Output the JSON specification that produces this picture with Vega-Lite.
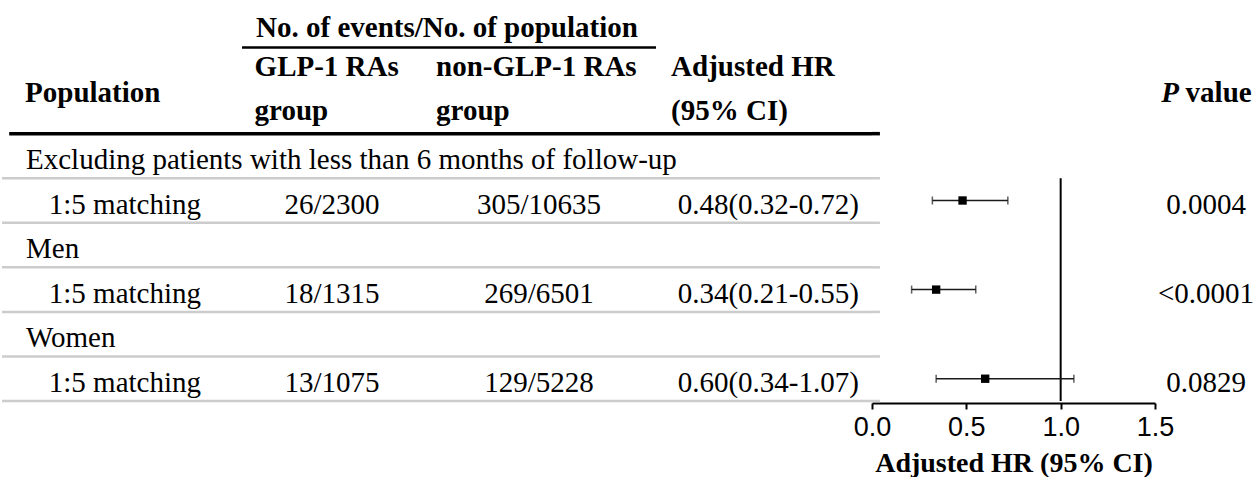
{
  "$schema": "https://vega.github.io/schema/vega-lite/v6.json",
  "padding": 0,
  "spacing": 0,
  "bounds": "flush",
  "background": "white",
  "config": {
    "view": {"stroke": null},
    "text": {"font": "Liberation Serif", "fontSize": 29, "color": "black"},
    "concat": {"spacing": 0}
  },
  "datasets": {
    "rows": [
      {"row": "r1", "kind": "group", "label": "Excluding patients with less than 6 months of follow-up"},
      {"row": "r2", "kind": "sub", "label": "1:5 matching", "glp": "26/2300", "non": "305/10635", "hr": "0.48(0.32-0.72)", "p": "0.0004", "est": 0.48, "lo": 0.32, "hi": 0.72},
      {"row": "r3", "kind": "group", "label": "Men"},
      {"row": "r4", "kind": "sub", "label": "1:5 matching", "glp": "18/1315", "non": "269/6501", "hr": "0.34(0.21-0.55)", "p": "<0.0001", "est": 0.34, "lo": 0.21, "hi": 0.55},
      {"row": "r5", "kind": "group", "label": "Women"},
      {"row": "r6", "kind": "sub", "label": "1:5 matching", "glp": "13/1075", "non": "129/5228", "hr": "0.60(0.34-1.07)", "p": "0.0829", "est": 0.60, "lo": 0.34, "hi": 1.07}
    ],
    "headers": [
      {"col": "pop", "row": "h2", "text": "Population"},
      {"col": "events", "row": "h1", "text": "No. of events/No. of population"},
      {"col": "glp", "row": "h2", "text": "GLP-1 RAs"},
      {"col": "glp", "row": "h3", "text": "group"},
      {"col": "non", "row": "h2", "text": "non-GLP-1 RAs"},
      {"col": "non", "row": "h3", "text": "group"},
      {"col": "hr", "row": "h2", "text": "Adjusted HR"},
      {"col": "hr", "row": "h3", "text": "(95% CI)"},
      {"col": "p", "row": "h2", "text": "P"},
      {"col": "p2", "row": "h2", "text": "value"}
    ],
    "one": [{}]
  },
  "hconcat": [
    {
      "width": 240, "height": 401,
      "layer": [
        {"data": {"name": "one"},
         "mark": {"type": "rule", "strokeWidth": 3.5, "color": "black"},
         "encoding": {
           "y": {"datum": "h3", "type": "nominal", "bandPosition": 1, "scale": {"type": "band", "domain": ["h1","h2","h3","r1","r2","r3","r4","r5","r6"], "paddingInner": 0, "paddingOuter": 0}, "axis": null},
           "x": {"datum": 0.03, "type": "quantitative", "scale": {"domain": [0, 1], "nice": false, "zero": false}, "axis": null},
           "x2": {"datum": 1}}},
        {"data": {"name": "rows"},
         "mark": {"type": "rule", "strokeWidth": 2.5, "color": "#cccccc"},
         "encoding": {"y": {"field": "row", "type": "nominal", "bandPosition": 1, "axis": null}}},
        {"data": {"name": "headers"}, "transform": [{"filter": "datum.col === 'pop'"}],
         "mark": {"type": "text", "align": "left", "fontWeight": "bold", "dy": 4},
         "encoding": {"y": {"field": "row", "type": "nominal", "bandPosition": 1, "axis": null},
           "x": {"datum": 0.096, "type": "quantitative"}, "text": {"field": "text"}}},
        {"data": {"name": "rows"}, "transform": [{"filter": "datum.kind === 'group'"}],
         "mark": {"type": "text", "align": "left", "dy": 4},
         "encoding": {"y": {"field": "row", "type": "nominal", "bandPosition": 0.5, "axis": null},
           "x": {"datum": 0.1, "type": "quantitative"}, "text": {"field": "label"}}},
        {"data": {"name": "rows"}, "transform": [{"filter": "datum.kind === 'sub'"}],
         "mark": {"type": "text", "align": "left", "dy": 4},
         "encoding": {"y": {"field": "row", "type": "nominal", "bandPosition": 0.5, "axis": null},
           "x": {"datum": 0.195, "type": "quantitative"}, "text": {"field": "label"}}}
      ]
    },
    {
      "width": 180, "height": 401,
      "layer": [
        {"data": {"name": "one"},
         "mark": {"type": "rule", "strokeWidth": 3.5, "color": "black"},
         "encoding": {
           "y": {"datum": "h3", "type": "nominal", "bandPosition": 1, "scale": {"type": "band", "domain": ["h1","h2","h3","r1","r2","r3","r4","r5","r6"], "paddingInner": 0, "paddingOuter": 0}, "axis": null}}},
        {"data": {"name": "one"},
         "mark": {"type": "rule", "strokeWidth": 2.5, "color": "black", "yOffset": 3},
         "encoding": {"y": {"datum": "h1", "type": "nominal", "bandPosition": 1, "axis": null}}},
        {"data": {"name": "rows"},
         "mark": {"type": "rule", "strokeWidth": 2.5, "color": "#cccccc"},
         "encoding": {"y": {"field": "row", "type": "nominal", "bandPosition": 1, "axis": null}}},
        {"data": {"name": "headers"}, "transform": [{"filter": "datum.col === 'events'"}],
         "mark": {"type": "text", "align": "left", "fontWeight": "bold", "dy": 6},
         "encoding": {"y": {"field": "row", "type": "nominal", "bandPosition": 0.5, "axis": null},
           "x": {"datum": 0.078, "type": "quantitative", "scale": {"domain": [0, 1], "nice": false, "zero": false}, "axis": null}, "text": {"field": "text"}}},
        {"data": {"name": "headers"}, "transform": [{"filter": "datum.col === 'glp'"}],
         "mark": {"type": "text", "align": "left", "fontWeight": "bold"},
         "encoding": {"y": {"field": "row", "type": "nominal", "bandPosition": 0.5, "axis": null},
           "x": {"datum": 0.07, "type": "quantitative"}, "text": {"field": "text"}}},
        {"data": {"name": "rows"}, "transform": [{"filter": "datum.kind === 'sub'"}],
         "mark": {"type": "text", "align": "center", "dy": 4},
         "encoding": {"y": {"field": "row", "type": "nominal", "bandPosition": 0.5, "axis": null},
           "x": {"datum": 0.5, "type": "quantitative"}, "text": {"field": "glp"}}}
      ]
    },
    {
      "width": 234, "height": 401,
      "layer": [
        {"data": {"name": "one"},
         "mark": {"type": "rule", "strokeWidth": 3.5, "color": "black"},
         "encoding": {
           "y": {"datum": "h3", "type": "nominal", "bandPosition": 1, "scale": {"type": "band", "domain": ["h1","h2","h3","r1","r2","r3","r4","r5","r6"], "paddingInner": 0, "paddingOuter": 0}, "axis": null}}},
        {"data": {"name": "one"},
         "mark": {"type": "rule", "strokeWidth": 2.5, "color": "black", "yOffset": 3},
         "encoding": {"y": {"datum": "h1", "type": "nominal", "bandPosition": 1, "axis": null}}},
        {"data": {"name": "rows"},
         "mark": {"type": "rule", "strokeWidth": 2.5, "color": "#cccccc"},
         "encoding": {"y": {"field": "row", "type": "nominal", "bandPosition": 1, "axis": null}}},
        {"data": {"name": "headers"}, "transform": [{"filter": "datum.col === 'non'"}],
         "mark": {"type": "text", "align": "left", "fontWeight": "bold"},
         "encoding": {"y": {"field": "row", "type": "nominal", "bandPosition": 0.5, "axis": null},
           "x": {"datum": 0.06, "type": "quantitative", "scale": {"domain": [0, 1], "nice": false, "zero": false}, "axis": null}, "text": {"field": "text"}}},
        {"data": {"name": "rows"}, "transform": [{"filter": "datum.kind === 'sub'"}],
         "mark": {"type": "text", "align": "center", "dy": 4},
         "encoding": {"y": {"field": "row", "type": "nominal", "bandPosition": 0.5, "axis": null},
           "x": {"datum": 0.5, "type": "quantitative"}, "text": {"field": "non"}}}
      ]
    },
    {
      "width": 216, "height": 401,
      "layer": [
        {"data": {"name": "one"},
         "mark": {"type": "rule", "strokeWidth": 3.5, "color": "black"},
         "encoding": {
           "y": {"datum": "h3", "type": "nominal", "bandPosition": 1, "scale": {"type": "band", "domain": ["h1","h2","h3","r1","r2","r3","r4","r5","r6"], "paddingInner": 0, "paddingOuter": 0}, "axis": null}}},
        {"data": {"name": "rows"},
         "mark": {"type": "rule", "strokeWidth": 2.5, "color": "#cccccc"},
         "encoding": {"y": {"field": "row", "type": "nominal", "bandPosition": 1, "axis": null}}},
        {"data": {"name": "headers"}, "transform": [{"filter": "datum.col === 'hr'"}],
         "mark": {"type": "text", "align": "left", "fontWeight": "bold"},
         "encoding": {"y": {"field": "row", "type": "nominal", "bandPosition": 0.5, "axis": null},
           "x": {"datum": 0.07, "type": "quantitative", "scale": {"domain": [0, 1], "nice": false, "zero": false}, "axis": null}, "text": {"field": "text"}}},
        {"data": {"name": "rows"}, "transform": [{"filter": "datum.kind === 'sub'"}],
         "mark": {"type": "text", "align": "center", "dy": 4},
         "encoding": {"y": {"field": "row", "type": "nominal", "bandPosition": 0.5, "axis": null},
           "x": {"datum": 0.52, "type": "quantitative"}, "text": {"field": "hr"}}}
      ]
    },
    {
      "width": 283, "height": 401,
      "layer": [
        {"data": {"name": "one"},
         "mark": {"type": "rule", "strokeWidth": 3.5, "color": "black"},
         "encoding": {
           "y": {"datum": "h3", "type": "nominal", "bandPosition": 1, "scale": {"type": "band", "domain": ["h1","h2","h3","r1","r2","r3","r4","r5","r6"], "paddingInner": 0, "paddingOuter": 0}, "axis": null},
           "x": {"datum": 0, "type": "quantitative", "scale": {"domain": [0, 1.5], "nice": false, "zero": false},
             "axis": {"values": [0, 0.5, 1, 1.5], "format": ".1f", "grid": false, "offset": 2,
               "labelFont": "Liberation Sans", "labelFontSize": 27, "labelColor": "black", "labelPadding": 5, "labelFlush": false, "labelOverlap": false,
               "domainColor": "black", "domainWidth": 2, "tickColor": "black", "tickWidth": 2, "tickSize": 6,
               "title": "Adjusted HR (95% CI)", "titleFont": "Liberation Serif", "titleFontSize": 28, "titleFontWeight": "bold", "titleColor": "black", "titlePadding": 9}},
           "x2": {"datum": 0.042}}},
        {"data": {"name": "rows"},
         "mark": {"type": "rule", "strokeWidth": 2.5, "color": "#cccccc"},
         "encoding": {"y": {"field": "row", "type": "nominal", "bandPosition": 1, "axis": null},
           "x": {"datum": 0, "type": "quantitative"}, "x2": {"datum": 0.042}}},
        {"data": {"name": "one"},
         "mark": {"type": "rule", "strokeWidth": 2, "color": "black"},
         "encoding": {"x": {"datum": 1, "type": "quantitative"},
           "y": {"datum": "r2", "type": "nominal", "bandPosition": 0, "axis": null},
           "y2": {"value": "height"}}},
        {"data": {"name": "rows"}, "transform": [{"filter": "datum.kind === 'sub'"}],
         "mark": {"type": "rule", "strokeWidth": 1.5, "color": "#1a1a1a"},
         "encoding": {"y": {"field": "row", "type": "nominal", "bandPosition": 0.5, "axis": null},
           "x": {"field": "lo", "type": "quantitative"}, "x2": {"field": "hi"}}},
        {"data": {"name": "rows"}, "transform": [{"filter": "datum.kind === 'sub'"}],
         "mark": {"type": "tick", "orient": "vertical", "size": 8, "thickness": 1.5, "color": "#1a1a1a"},
         "encoding": {"y": {"field": "row", "type": "nominal", "bandPosition": 0.5, "axis": null},
           "x": {"field": "lo", "type": "quantitative"}}},
        {"data": {"name": "rows"}, "transform": [{"filter": "datum.kind === 'sub'"}],
         "mark": {"type": "tick", "orient": "vertical", "size": 8, "thickness": 1.5, "color": "#1a1a1a"},
         "encoding": {"y": {"field": "row", "type": "nominal", "bandPosition": 0.5, "axis": null},
           "x": {"field": "hi", "type": "quantitative"}}},
        {"data": {"name": "rows"}, "transform": [{"filter": "datum.kind === 'sub'"}],
         "mark": {"type": "point", "shape": "square", "filled": true, "size": 70, "color": "black", "opacity": 1},
         "encoding": {"y": {"field": "row", "type": "nominal", "bandPosition": 0.5, "axis": null},
           "x": {"field": "est", "type": "quantitative"}}}
      ]
    },
    {
      "width": 102, "height": 401,
      "layer": [
        {"data": {"name": "headers"}, "transform": [{"filter": "datum.col === 'p'"}],
         "mark": {"type": "text", "align": "right", "fontWeight": "bold", "fontStyle": "italic", "dy": 4},
         "encoding": {"y": {"field": "row", "type": "nominal", "bandPosition": 1, "scale": {"type": "band", "domain": ["h1","h2","h3","r1","r2","r3","r4","r5","r6"], "paddingInner": 0, "paddingOuter": 0}, "axis": null},
           "x": {"datum": 0.235, "type": "quantitative", "scale": {"domain": [0, 1], "nice": false, "zero": false}, "axis": null}, "text": {"field": "text"}}},
        {"data": {"name": "headers"}, "transform": [{"filter": "datum.col === 'p2'"}],
         "mark": {"type": "text", "align": "left", "fontWeight": "bold", "dy": 4},
         "encoding": {"y": {"field": "row", "type": "nominal", "bandPosition": 1, "axis": null},
           "x": {"datum": 0.30, "type": "quantitative"}, "text": {"field": "text"}}},
        {"data": {"name": "rows"}, "transform": [{"filter": "datum.kind === 'sub'"}],
         "mark": {"type": "text", "align": "center", "dy": 4},
         "encoding": {"y": {"field": "row", "type": "nominal", "bandPosition": 0.5, "axis": null},
           "x": {"datum": 0.5, "type": "quantitative"}, "text": {"field": "p"}}}
      ]
    }
  ]
}
